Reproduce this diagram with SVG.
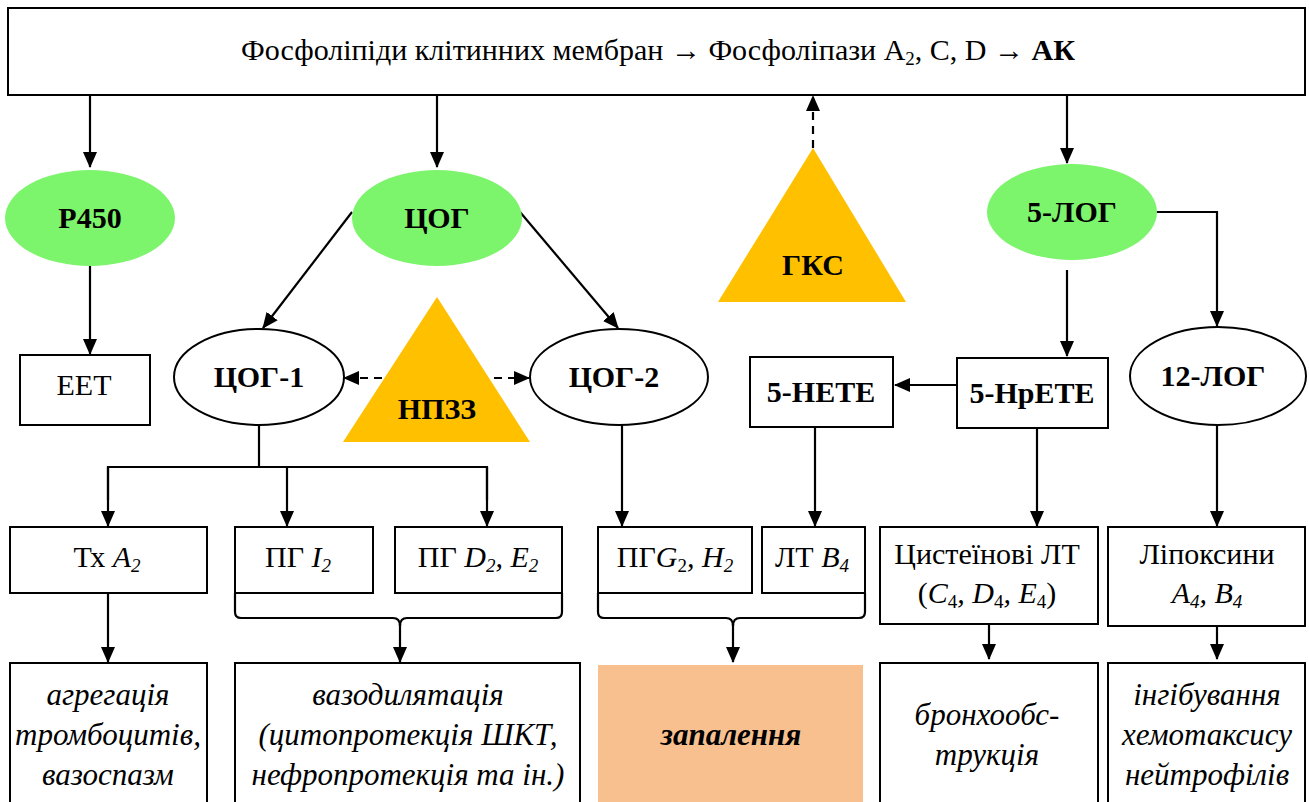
<svg xmlns="http://www.w3.org/2000/svg" width="1309" height="802" viewBox="0 0 1309 802">
<defs>
<marker id="ah" markerUnits="userSpaceOnUse" markerWidth="16" markerHeight="14" refX="15" refY="7" orient="auto">
<path d="M0,0 L16,7 L0,14 z" fill="#000"/>
</marker>
</defs>
<rect width="1309" height="802" fill="#fff"/>

<g id="top">
<rect x="8" y="8" width="1297" height="87" fill="#fff" stroke="#000" stroke-width="2"/>
<text font-family="Liberation Serif, Times New Roman, serif" font-size="30" text-anchor="middle" x="658" y="60">Фосфоліпіди клітинних мембран → Фосфоліпази A<tspan font-size="19" dy="5">2</tspan><tspan dy="-5">, C, D → </tspan><tspan font-weight="bold">АК</tspan></text>
</g>

<g id="connectors" fill="none" stroke="#000" stroke-width="2.2">
<g marker-end="url(#ah)">
<line x1="90" y1="95" x2="90" y2="167"/>
<line x1="437" y1="95" x2="437" y2="167"/>
<line x1="1067" y1="95" x2="1067" y2="163"/>
<line x1="90" y1="266" x2="90" y2="354"/>
<line x1="352" y1="212" x2="263" y2="328"/>
<line x1="520" y1="212" x2="618" y2="328"/>
<line x1="1067" y1="270" x2="1067" y2="356"/>
<polyline points="1156,212 1217,212 1217,326"/>
<line x1="956" y1="385" x2="895" y2="385"/>
<line x1="108" y1="467" x2="108" y2="526"/>
<line x1="287" y1="467" x2="287" y2="526"/>
<line x1="487" y1="467" x2="487" y2="526"/>
<line x1="622" y1="425" x2="622" y2="526"/>
<line x1="815" y1="427" x2="815" y2="526"/>
<line x1="1037" y1="428" x2="1037" y2="526"/>
<line x1="1217" y1="425" x2="1217" y2="526"/>
<line x1="108" y1="593" x2="108" y2="662"/>
<line x1="400" y1="624" x2="400" y2="662"/>
<line x1="733" y1="624" x2="733" y2="662"/>
<line x1="989" y1="624" x2="989" y2="659"/>
<line x1="1217" y1="626" x2="1217" y2="659"/>
</g>
<g marker-end="url(#ah)" stroke-dasharray="8,6">
<line x1="813" y1="148" x2="813" y2="96"/>
<line x1="382" y1="378" x2="344" y2="378"/>
<line x1="494" y1="378" x2="529" y2="378"/>
</g>
<line x1="259" y1="425" x2="259" y2="467"/>
<polyline points="108,500 108,467 487,467 487,500"/>
<path d="M235,593 L235,612 Q235,618 241,618 L393,618 Q400,618 400,626 Q400,618 407,618 L556,618 Q562,618 562,612 L562,593"/>
<path d="M598,593 L598,612 Q598,618 604,618 L726,618 Q733,618 733,626 Q733,618 740,618 L859,618 Q865,618 865,612 L865,593"/>
</g>

<g font-family="Liberation Serif, Times New Roman, serif" font-size="30" font-weight="bold" text-anchor="middle">
<g id="p450"><ellipse cx="90" cy="218" rx="85" ry="48" fill="#7CF46C"/><text x="90" y="228">P450</text></g>
<g id="cog"><ellipse cx="437" cy="218" rx="85" ry="48" fill="#7CF46C"/><text x="437" y="228">ЦОГ</text></g>
<g id="log5"><ellipse cx="1072" cy="212" rx="85" ry="48" fill="#7CF46C"/><text x="1072" y="222">5-ЛОГ</text></g>
<g id="gks"><polygon points="813,148 718,302 906,302" fill="#FFC000"/><text x="813" y="275">ГКС</text></g>
<g id="npzz"><polygon points="437,297 343,442 530,442" fill="#FFC000"/><text x="437" y="419">НПЗЗ</text></g>
<g id="cog1"><ellipse cx="259" cy="377" rx="85" ry="48" fill="#fff" stroke="#000" stroke-width="2"/><text x="259" y="387">ЦОГ-1</text></g>
<g id="cog2"><ellipse cx="619" cy="377" rx="89" ry="48" fill="#fff" stroke="#000" stroke-width="2"/><text x="614" y="387">ЦОГ-2</text></g>
<g id="log12"><ellipse cx="1218" cy="376" rx="88" ry="49" fill="#fff" stroke="#000" stroke-width="2"/><text x="1213" y="386">12-ЛОГ</text></g>
<g id="hete"><rect x="750" y="357" width="143" height="70" fill="#fff" stroke="#000" stroke-width="2"/><text x="821" y="402">5-НЕТЕ</text></g>
<g id="hpete"><rect x="957" y="358" width="151" height="70" fill="#fff" stroke="#000" stroke-width="2"/><text x="1032" y="403">5-HpETE</text></g>
</g>

<g font-family="Liberation Serif, Times New Roman, serif" font-size="30" text-anchor="middle">
<g id="eet"><rect x="20" y="355" width="130" height="70" fill="#fff" stroke="#000" stroke-width="2"/><text x="84" y="395">EET</text></g>
<g id="txa2"><rect x="10" y="527" width="197" height="66" fill="#fff" stroke="#000" stroke-width="2"/><text x="107" y="567">Тх <tspan font-style="italic">A</tspan><tspan font-style="italic" font-size="19" dy="5">2</tspan></text></g>
<g id="pgi2"><rect x="235" y="527" width="138" height="66" fill="#fff" stroke="#000" stroke-width="2"/><text x="298" y="567">ПГ <tspan font-style="italic">I</tspan><tspan font-style="italic" font-size="19" dy="5">2</tspan></text></g>
<g id="pgd2"><rect x="395" y="527" width="167" height="66" fill="#fff" stroke="#000" stroke-width="2"/><text x="478" y="567">ПГ <tspan font-style="italic">D</tspan><tspan font-style="italic" font-size="19" dy="5">2</tspan><tspan font-style="italic" dy="-5">, E</tspan><tspan font-style="italic" font-size="19" dy="5">2</tspan></text></g>
<g id="pgg2"><rect x="598" y="527" width="154" height="66" fill="#fff" stroke="#000" stroke-width="2"/><text x="675" y="567">ПГ<tspan font-style="italic">G</tspan><tspan font-size="19" dy="5">2</tspan><tspan font-style="italic" dy="-5">, H</tspan><tspan font-style="italic" font-size="19" dy="5">2</tspan></text></g>
<g id="ltb4"><rect x="762" y="527" width="103" height="66" fill="#fff" stroke="#000" stroke-width="2"/><text x="812" y="567">ЛТ <tspan font-style="italic">B</tspan><tspan font-style="italic" font-size="19" dy="5">4</tspan></text></g>
<g id="cyslt"><rect x="880" y="527" width="218" height="97" fill="#fff" stroke="#000" stroke-width="2"/><text x="987" y="564">Цистеїнові ЛТ</text><text x="987" y="603">(<tspan font-style="italic">C</tspan><tspan font-size="19" dy="5">4</tspan><tspan font-style="italic" dy="-5">, D</tspan><tspan font-size="19" dy="5">4</tspan><tspan font-style="italic" dy="-5">, E</tspan><tspan font-size="19" dy="5">4</tspan><tspan dy="-5">)</tspan></text></g>
<g id="lipox"><rect x="1108" y="527" width="197" height="99" fill="#fff" stroke="#000" stroke-width="2"/><text x="1207" y="564">Ліпоксини</text><text font-style="italic" x="1207" y="603">A<tspan font-size="19" dy="5">4</tspan><tspan dy="-5">, B</tspan><tspan font-size="19" dy="5">4</tspan></text></g>
</g>

<g font-family="Liberation Serif, Times New Roman, serif" font-size="31" font-style="italic" text-anchor="middle">
<g id="agreg"><rect x="10" y="663" width="197" height="150" fill="#fff" stroke="#000" stroke-width="2"/><text x="108" y="705">агрегація</text><text x="108" y="745">тромбоцитів,</text><text x="108" y="785">вазоспазм</text></g>
<g id="vazo"><rect x="235" y="663" width="345" height="150" fill="#fff" stroke="#000" stroke-width="2"/><text x="408" y="705">вазодилятація</text><text x="408" y="745">(цитопротекція ШКТ,</text><text x="408" y="785">нефропротекція та ін.)</text></g>
<g id="zapal"><rect x="598" y="665" width="265" height="140" fill="#F8BF8F"/><text font-weight="bold" x="731" y="745">запалення</text></g>
<g id="broncho"><rect x="880" y="663" width="218" height="150" fill="#fff" stroke="#000" stroke-width="2"/><text x="987" y="725">бронхообс-</text><text x="987" y="765">трукція</text></g>
<g id="ingib"><rect x="1108" y="663" width="197" height="150" fill="#fff" stroke="#000" stroke-width="2"/><text x="1207" y="705">інгібування</text><text x="1207" y="745">хемотаксису</text><text x="1207" y="785">нейтрофілів</text></g>
</g>
</svg>
